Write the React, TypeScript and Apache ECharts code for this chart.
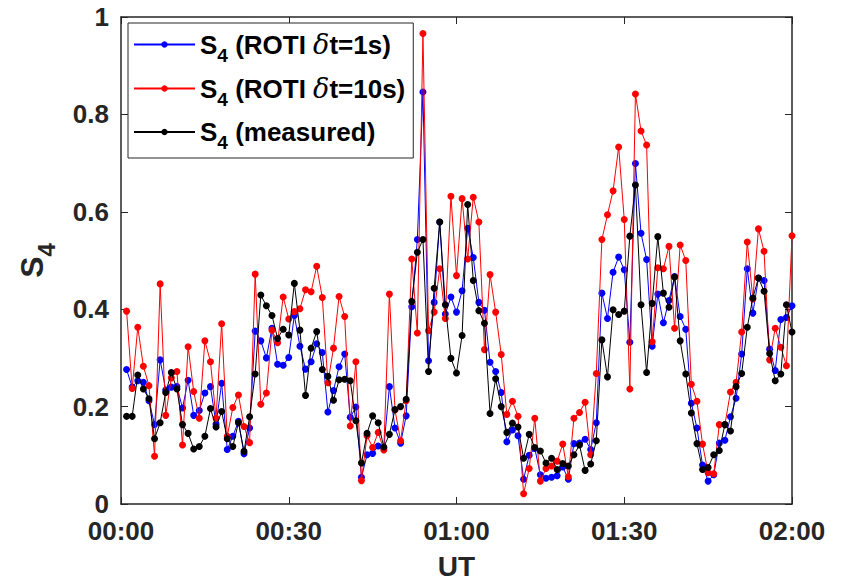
import React, { useEffect, useRef } from "react";
import * as echarts from "echarts";

// minutes after 00:00 UT
const minutes: number[] = Array.from({ length: 120 }, (_, i) => i + 1);

const roti1s: number[] = [
  0.276, 0.24, 0.253, 0.25, 0.212, 0.163, 0.296, 0.234, 0.24, 0.241,
  0.197, 0.254, 0.182, 0.192, 0.228, 0.241, 0.164, 0.248, 0.112, 0.139,
  0.17, 0.103, 0.156, 0.355, 0.335, 0.3, 0.361, 0.287, 0.285, 0.301,
  0.387, 0.324, 0.277, 0.292, 0.329, 0.311, 0.189, 0.233, 0.282, 0.308,
  0.178, 0.199, 0.055, 0.101, 0.104, 0.119, 0.115, 0.241, 0.156, 0.125,
  0.181, 0.405, 0.543, 0.846, 0.294, 0.414, 0.579, 0.39, 0.425, 0.394,
  0.438, 0.566, 0.506, 0.414, 0.398, 0.291, 0.272, 0.229, 0.128, 0.152,
  0.14, 0.051, 0.1, 0.114, 0.06, 0.053, 0.055, 0.058, 0.076, 0.051,
  0.124, 0.125, 0.133, 0.112, 0.167, 0.433, 0.381, 0.476, 0.507, 0.481,
  0.332, 0.699, 0.556, 0.502, 0.324, 0.431, 0.372, 0.418, 0.467, 0.385,
  0.359, 0.207, 0.156, 0.08, 0.047, 0.06, 0.125, 0.131, 0.179, 0.217,
  0.308, 0.483, 0.392, 0.464, 0.459, 0.318, 0.274, 0.379, 0.383, 0.407,
];

const roti10s: number[] = [
  0.396, 0.237, 0.363, 0.283, 0.243, 0.098, 0.452, 0.182, 0.259, 0.272,
  0.121, 0.323, 0.231, 0.176, 0.335, 0.292, 0.176, 0.37, 0.139, 0.198,
  0.224, 0.159, 0.126, 0.472, 0.205, 0.228, 0.357, 0.331, 0.425, 0.38,
  0.395, 0.401, 0.44, 0.436, 0.488, 0.424, 0.249, 0.32, 0.426, 0.385,
  0.16, 0.292, 0.048, 0.14, 0.116, 0.147, 0.111, 0.431, 0.193, 0.13,
  0.212, 0.503, 0.351, 0.966, 0.356, 0.394, 0.483, 0.381, 0.632, 0.469,
  0.627, 0.503, 0.63, 0.579, 0.317, 0.471, 0.394, 0.307, 0.184, 0.211,
  0.18, 0.021, 0.073, 0.176, 0.047, 0.073, 0.078, 0.088, 0.123, 0.056,
  0.176, 0.188, 0.209, 0.101, 0.268, 0.543, 0.594, 0.643, 0.733, 0.584,
  0.236, 0.842, 0.766, 0.737, 0.333, 0.485, 0.483, 0.529, 0.361, 0.532,
  0.5, 0.246, 0.211, 0.123, 0.064, 0.062, 0.163, 0.163, 0.23, 0.25,
  0.353, 0.538, 0.421, 0.565, 0.519, 0.296, 0.361, 0.322, 0.284, 0.551,
];

const measured: number[] = [
  0.18, 0.18, 0.265, 0.236, 0.216, 0.134, 0.167, 0.229, 0.27, 0.236,
  0.163, 0.145, 0.113, 0.118, 0.139, 0.196, 0.158, 0.19, 0.134, 0.118,
  0.167, 0.108, 0.179, 0.267, 0.429, 0.407, 0.387, 0.34, 0.359, 0.347,
  0.453, 0.357, 0.223, 0.32, 0.354, 0.276, 0.262, 0.213, 0.255, 0.256,
  0.253, 0.171, 0.084, 0.145, 0.181, 0.167, 0.117, 0.143, 0.194, 0.2,
  0.215, 0.416, 0.517, 0.543, 0.272, 0.443, 0.579, 0.409, 0.299, 0.269,
  0.346, 0.615, 0.459, 0.397, 0.371, 0.186, 0.257, 0.2, 0.147, 0.166,
  0.158, 0.094, 0.143, 0.116, 0.109, 0.084, 0.094, 0.071, 0.083, 0.078,
  0.101, 0.121, 0.069, 0.082, 0.13, 0.337, 0.261, 0.399, 0.389, 0.396,
  0.55, 0.655, 0.409, 0.27, 0.412, 0.549, 0.433, 0.404, 0.466, 0.335,
  0.267, 0.187, 0.124, 0.071, 0.075, 0.101, 0.11, 0.163, 0.15, 0.241,
  0.268, 0.363, 0.423, 0.464, 0.437, 0.309, 0.253, 0.267, 0.409, 0.353,
];

const seriesNames = ["roti1", "roti10", "meas"];
const seriesColors = ["#0000ff", "#ff0000", "#000000"];
const legendLabels: Record<string, string> = {
  roti1: "{s|S}{sub|4}{t| (ROTI }{i|δ}{t|t=1s)}",
  roti10: "{s|S}{sub|4}{t| (ROTI }{i|δ}{t|t=10s)}",
  meas: "{s|S}{sub|4}{t| (measured)}",
};

const FONT = "'Liberation Sans', Arial, Helvetica, sans-serif";
const AX = "#262626";

function pad(n: number) {
  return n < 10 ? "0" + n : "" + n;
}

export default function App() {
  const ref = useRef<HTMLDivElement>(null);
  useEffect(() => {
    if (!ref.current) return;
    const chart = echarts.init(ref.current, undefined, { renderer: "svg" });
    const values = [roti1s, roti10s, measured];
    const richLegend = {
      s: { fontSize: 26, fontWeight: "bold", fontFamily: FONT, color: "#000", lineHeight: 40 },
      sub: { fontSize: 19, fontWeight: "bold", fontFamily: FONT, color: "#000", verticalAlign: "bottom", lineHeight: 16 },
      t: { fontSize: 26, fontWeight: "bold", fontFamily: FONT, color: "#000", lineHeight: 40 },
      i: { fontSize: 27, fontStyle: "italic", fontFamily: "'DejaVu Serif', serif", color: "#000", lineHeight: 40 },
    };
    const axisCommon = {
      axisLine: { show: true, onZero: false, lineStyle: { color: AX, width: 1.5 } },
      axisTick: { show: true, inside: true, length: 7, lineStyle: { color: AX, width: 1 } },
      splitLine: { show: false },
    };
    chart.setOption({
      animation: false,
      backgroundColor: "#ffffff",
      grid: { left: 121, right: 54, top: 17, bottom: 78, containLabel: false, outerBoundsMode: "none" },
      legend: {
        orient: "vertical",
        left: 128,
        top: 23,
        data: seriesNames,
        itemWidth: 61,
        itemHeight: 8,
        itemGap: 10.5,
        padding: [8, 8, 6, 5],
        backgroundColor: "#ffffff",
        borderColor: AX,
        borderWidth: 1,
        borderRadius: 0,
        formatter: (name: string) => legendLabels[name],
        textStyle: { rich: richLegend },
      },
      xAxis: [
        {
          type: "value",
          min: 0,
          max: 120,
          interval: 30,
          position: "bottom",
          ...axisCommon,
          axisLabel: {
            show: true,
            margin: 14,
            color: AX,
            fontSize: 26,
            fontWeight: "bold",
            fontFamily: FONT,
            formatter: (v: number) => pad(Math.floor(v / 60)) + ":" + pad(v % 60),
          },
          name: "UT",
          nameLocation: "middle",
          nameGap: 48,
          nameTextStyle: { color: AX, fontSize: 28, fontWeight: "bold", fontFamily: FONT },
        },
        {
          type: "value",
          min: 0,
          max: 120,
          interval: 30,
          position: "top",
          ...axisCommon,
          axisLabel: { show: false },
        },
      ],
      yAxis: [
        {
          type: "value",
          min: 0,
          max: 1,
          interval: 0.2,
          position: "left",
          ...axisCommon,
          axisLabel: {
            show: true,
            margin: 12,
            color: AX,
            fontSize: 26,
            fontWeight: "bold",
            fontFamily: FONT,
          },
          name: "{s|S}{sub|4}",
          nameLocation: "middle",
          nameRotate: 90,
          nameGap: 63,
          nameTextStyle: {
            rich: {
              s: { fontSize: 32, fontWeight: "bold", fontFamily: FONT, color: AX, lineHeight: 52 },
              sub: { fontSize: 24, fontWeight: "bold", fontFamily: FONT, color: AX, verticalAlign: "bottom", lineHeight: 20 },
            },
          },
        },
        {
          type: "value",
          min: 0,
          max: 1,
          interval: 0.2,
          position: "right",
          ...axisCommon,
          axisLabel: { show: false },
        },
      ],
      series: seriesNames.map((name, k) => ({
        name,
        type: "line",
        xAxisIndex: 0,
        yAxisIndex: 0,
        data: values[k].map((v, i) => [minutes[i], v]),
        symbol: "circle",
        symbolSize: 7,
        showSymbol: true,
        color: seriesColors[k],
        lineStyle: { color: seriesColors[k], width: 1 },
        itemStyle: { color: seriesColors[k] },
        emphasis: { disabled: true },
        z: 2 + k,
      })),
    });
    return () => chart.dispose();
  }, []);
  return (
    <div
      ref={ref}
      style={{ position: "fixed", left: 0, top: 0, width: 846, height: 582, background: "#fff" }}
    />
  );
}
